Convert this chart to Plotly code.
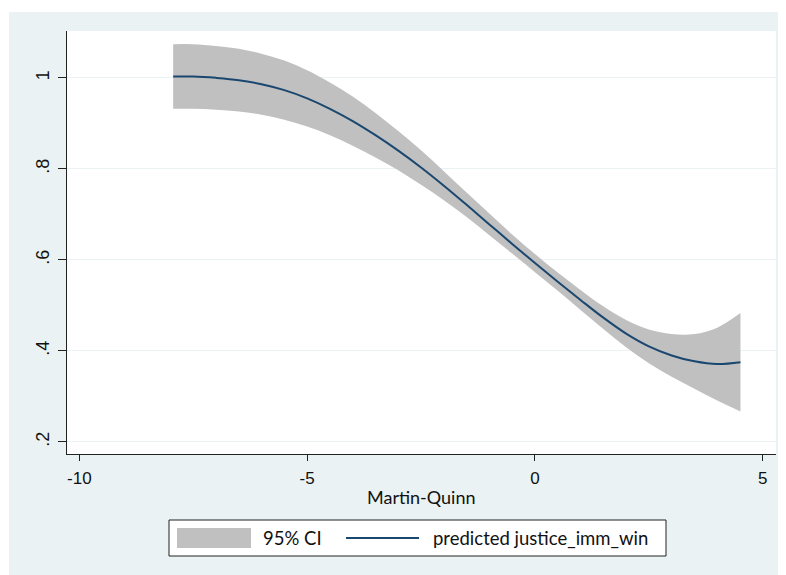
import plotly.graph_objects as go

# ---- data ----
mq = [-7.94, -7.5, -7.0, -6.5, -6.0, -5.5, -5.0, -4.5, -4.0, -3.5, -3.0, -2.5, -2.0,
      -1.5, -1.0, -0.5, 0.0, 0.5, 1.0, 1.5, 2.0, 2.5, 3.0, 3.5, 4.0, 4.51]
predicted = [1.003, 1.003, 1.000, 0.995, 0.986, 0.973, 0.955, 0.932, 0.905, 0.874, 0.840,
             0.803, 0.763, 0.721, 0.678, 0.635, 0.593, 0.552, 0.512, 0.473, 0.438, 0.410,
             0.390, 0.377, 0.371, 0.375]
ci_lower = [0.932, 0.932, 0.930, 0.926, 0.919, 0.908, 0.893, 0.874, 0.851, 0.825, 0.797,
            0.765, 0.731, 0.694, 0.654, 0.614, 0.573, 0.532, 0.490, 0.448, 0.408, 0.373,
            0.343, 0.317, 0.291, 0.267]
ci_upper = [1.074, 1.074, 1.070, 1.064, 1.053, 1.038, 1.017, 0.990, 0.959, 0.923, 0.883,
            0.841, 0.795, 0.748, 0.702, 0.656, 0.613, 0.572, 0.534, 0.498, 0.468, 0.447,
            0.437, 0.437, 0.451, 0.483]
x_ticks = [-10, -5, 0, 5]
x_tick_labels = ["-10", "-5", "0", "5"]
y_ticks = [0.2, 0.4, 0.6, 0.8, 1.0]
y_tick_labels = [".2", ".4", ".6", ".8", "1"]
legend_labels = ["95% CI", "predicted justice_imm_win"]
x_title = "Martin-Quinn"

# ---- styling ----
OFF = 8                      # page body margin
W, H = 778, 567
L, R, T, B = 59, 10, 23, 121
BG = "#EAF2F3"
BAND = "#C0C0C0"
LINE = "#1A476F"
TICKFONT = "Liberation Sans"
TEXTFONT = "Lato"

pw, ph = W - L - R, H - T - B


def px(x):  # page x pixel -> paper coordinate
    return (x - OFF - L) / pw


def py(y):  # page y pixel -> paper coordinate
    return (H - B - (y - OFF)) / ph


fig = go.Figure()
fig.add_trace(go.Scatter(x=mq, y=ci_upper, mode="lines", line=dict(width=0, color=BAND, shape="spline"),
                         showlegend=False, hoverinfo="skip"))
fig.add_trace(go.Scatter(x=mq, y=ci_lower, mode="lines", line=dict(width=0, color=BAND, shape="spline"),
                         fill="tonexty", fillcolor=BAND, name=legend_labels[0], showlegend=False))
fig.add_trace(go.Scatter(x=mq, y=predicted, mode="lines", line=dict(width=2, color=LINE, shape="spline"),
                         name=legend_labels[1], showlegend=False))

shapes = [
    # white page strips outside the graph background
    dict(type="rect", xref="paper", yref="paper", x0=px(0), x1=px(9), y0=py(0), y1=py(H + 20),
         fillcolor="white", line=dict(width=0), layer="above"),
    dict(type="rect", xref="paper", yref="paper", x0=px(0), x1=px(W + 20), y0=py(0), y1=py(12),
         fillcolor="white", line=dict(width=0), layer="above"),
    # legend box
    dict(type="rect", xref="paper", yref="paper", x0=px(169), x1=px(666), y0=py(520), y1=py(556),
         fillcolor="white", line=dict(width=1, color="#222222")),
    dict(type="rect", xref="paper", yref="paper", x0=px(177), x1=px(251), y0=py(528), y1=py(548),
         fillcolor=BAND, line=dict(width=0)),
    dict(type="line", xref="paper", yref="paper", x0=px(346), x1=px(419), y0=py(538), y1=py(538),
         line=dict(width=2, color=LINE)),
]

annotations = [
    dict(text=legend_labels[0], xref="paper", yref="paper", x=px(261), y=py(538), xanchor="left",
         yanchor="middle", showarrow=False, font=dict(family=TEXTFONT, size=18.5, color="#111111")),
    dict(text=legend_labels[1], xref="paper", yref="paper", x=px(431), y=py(538), xanchor="left",
         yanchor="middle", showarrow=False, font=dict(family=TEXTFONT, size=18.5, color="#111111")),
    dict(text=x_title, xref="paper", yref="paper", x=px(421), y=py(497), xanchor="center",
         yanchor="middle", showarrow=False, font=dict(family=TEXTFONT, size=18, color="#111111")),
]

fig.update_layout(
    width=W, height=H,
    margin=dict(l=L, r=R, t=T, b=B),
    paper_bgcolor=BG, plot_bgcolor="white",
    shapes=shapes, annotations=annotations,
    showlegend=False,
    xaxis=dict(range=[-10.27, 5.29], tickvals=x_ticks, ticktext=x_tick_labels,
               ticks="outside", ticklen=6, tickcolor="#222222", ticklabelstandoff=3,
               showgrid=False, zeroline=False, showline=True, linecolor="#222222", linewidth=1,
               tickfont=dict(family=TICKFONT, size=17, color="#111111")),
    yaxis=dict(range=[0.1734, 1.103], tickvals=y_ticks, ticktext=y_tick_labels, tickangle=-90,
               ticks="outside", ticklen=8, tickcolor="#222222", ticklabelstandoff=2,
               showgrid=True, gridcolor=BG, gridwidth=1, zeroline=False, showline=True,
               linecolor="#222222", linewidth=1,
               tickfont=dict(family=TICKFONT, size=18, color="#111111")),
)

fig.write_html("out.html")
